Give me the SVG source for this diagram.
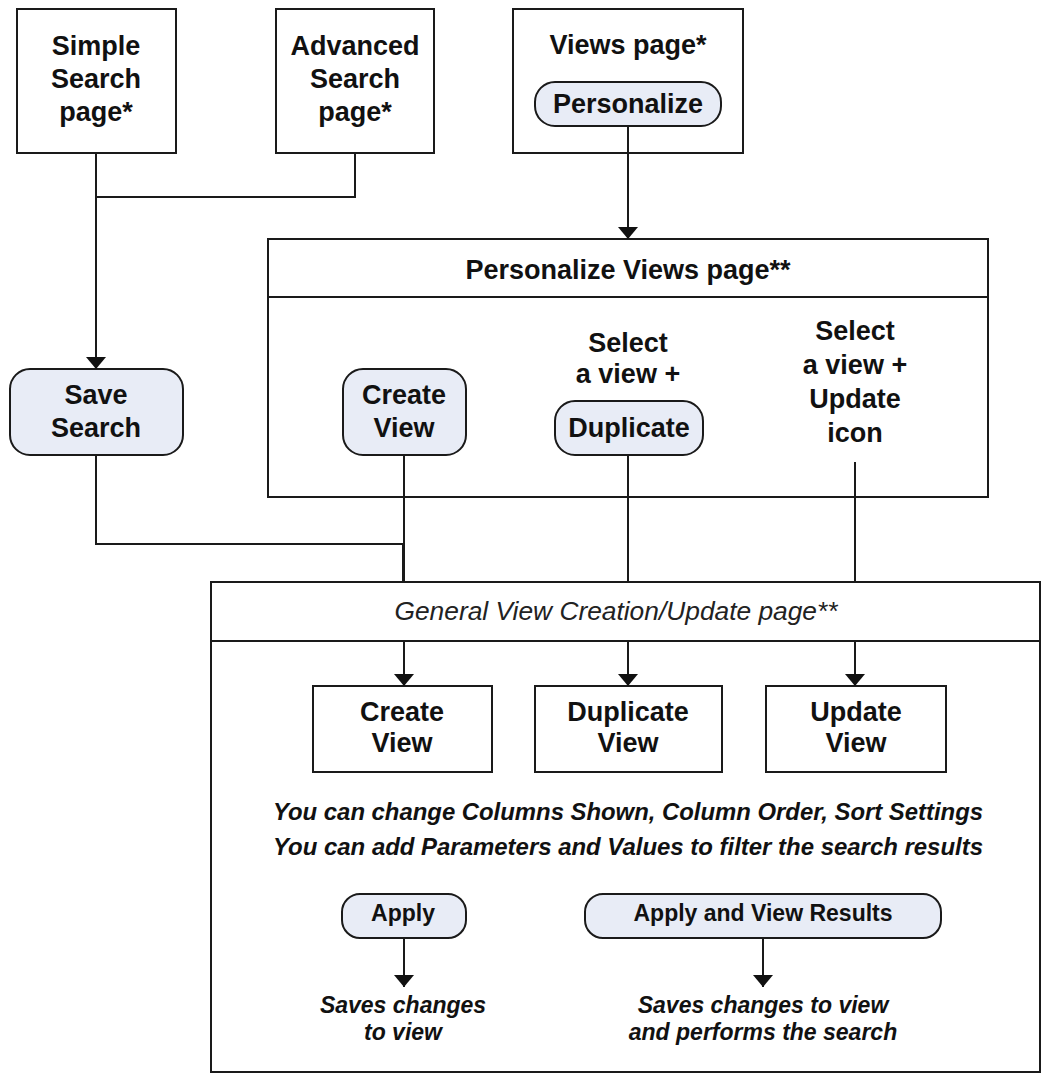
<svg xmlns="http://www.w3.org/2000/svg" width="1045" height="1078" viewBox="0 0 1045 1078">
<style>
.box{fill:#fff;stroke:#1a1a1a;stroke-width:2}
.pill{fill:#e8ecf6;stroke:#1a1a1a;stroke-width:2}
.t{font-family:"Liberation Sans",Arial,sans-serif;font-weight:bold;font-size:27px;fill:#111;text-anchor:middle}
.s{font-family:"Liberation Sans",Arial,sans-serif;font-weight:bold;font-size:23px;fill:#111;text-anchor:middle}
.ni{font-family:"Liberation Sans",Arial,sans-serif;font-weight:bold;font-style:italic;font-size:23px;fill:#111;text-anchor:middle}
.gi{font-family:"Liberation Sans",Arial,sans-serif;font-style:italic;font-size:26px;fill:#222;text-anchor:middle}
.c{fill:none;stroke:#1a1a1a;stroke-width:2}
</style>
<defs>
<marker id="ah" viewBox="0 0 12 20" refX="12" refY="10" markerWidth="12" markerHeight="20" markerUnits="userSpaceOnUse" orient="auto">
<path d="M0,0 L12,10 L0,20 Z" fill="#111"/>
</marker>
</defs>

<g id="simple-search">
<rect class="box" x="17" y="9" width="159" height="144"/>
<text class="t" x="96" y="55">Simple</text>
<text class="t" x="96" y="88">Search</text>
<text class="t" x="96" y="121">page*</text>
</g>
<g id="advanced-search">
<rect class="box" x="276" y="9" width="158" height="144"/>
<text class="t" x="355" y="55">Advanced</text>
<text class="t" x="355" y="88">Search</text>
<text class="t" x="355" y="121">page*</text>
</g>
<g id="views-page">
<rect class="box" x="513" y="9" width="230" height="144"/>
<text class="t" x="628" y="54">Views page*</text>
<rect class="pill" x="535" y="82" width="186" height="44" rx="20"/>
<text class="t" x="628" y="113">Personalize</text>
</g>
<g id="personalize-views">
<rect class="box" x="268" y="239" width="720" height="258"/>
<line class="c" x1="268" y1="297" x2="988" y2="297"/>
<text class="t" x="628" y="279">Personalize Views page**</text>
<rect class="pill" x="343" y="369" width="123" height="86" rx="20"/>
<text class="t" x="404" y="404">Create</text>
<text class="t" x="404" y="437">View</text>
<text class="t" x="628" y="352">Select</text>
<text class="t" x="628" y="383">a view +</text>
<rect class="pill" x="555" y="401" width="148" height="54" rx="20"/>
<text class="t" x="629" y="437">Duplicate</text>
<text class="t" x="855" y="340">Select</text>
<text class="t" x="855" y="374">a view +</text>
<text class="t" x="855" y="408">Update</text>
<text class="t" x="855" y="442">icon</text>
</g>
<g id="save-search">
<rect class="pill" x="10" y="369" width="173" height="86" rx="20"/>
<text class="t" x="96" y="404">Save</text>
<text class="t" x="96" y="437">Search</text>
</g>
<g id="general-view">
<rect class="box" x="211" y="582" width="829" height="490"/>
<line class="c" x1="211" y1="641" x2="1040" y2="641"/>
<text class="gi" x="616" y="620" textLength="443" lengthAdjust="spacingAndGlyphs">General View Creation/Update page**</text>
<rect class="box" x="313" y="686" width="179" height="86"/>
<text class="t" x="402" y="721">Create</text>
<text class="t" x="402" y="752">View</text>
<rect class="box" x="535" y="686" width="187" height="86"/>
<text class="t" x="628" y="721">Duplicate</text>
<text class="t" x="628" y="752">View</text>
<rect class="box" x="766" y="686" width="180" height="86"/>
<text class="t" x="856" y="721">Update</text>
<text class="t" x="856" y="752">View</text>
<text class="ni" x="628" y="820" textLength="710" lengthAdjust="spacingAndGlyphs">You can change Columns Shown, Column Order, Sort Settings</text>
<text class="ni" x="628" y="855" textLength="710" lengthAdjust="spacingAndGlyphs">You can add Parameters and Values to filter the search results</text>
<rect class="pill" x="342" y="894" width="124" height="44" rx="18"/>
<text class="s" x="403" y="921">Apply</text>
<rect class="pill" x="585" y="894" width="356" height="44" rx="18"/>
<text class="s" x="763" y="921">Apply and View Results</text>
<text class="ni" x="403" y="1013">Saves changes</text>
<text class="ni" x="403" y="1040">to view</text>
<text class="ni" x="763" y="1013">Saves changes to view</text>
<text class="ni" x="763" y="1040">and performs the search</text>
</g>

<g id="connectors">
<path class="c" d="M96 153 V369" marker-end="url(#ah)"/>
<path class="c" d="M355 153 V197 H96"/>
<path class="c" d="M628 126 V239" marker-end="url(#ah)"/>
<path class="c" d="M96 455 V544 H403 V582"/>
<path class="c" d="M404 455 V582"/>
<path class="c" d="M628 455 V582"/>
<path class="c" d="M855 462 V582"/>
<path class="c" d="M404 641 V686" marker-end="url(#ah)"/>
<path class="c" d="M628 641 V686" marker-end="url(#ah)"/>
<path class="c" d="M855 641 V686" marker-end="url(#ah)"/>
<path class="c" d="M404 938 V987" marker-end="url(#ah)"/>
<path class="c" d="M763 938 V987" marker-end="url(#ah)"/>
</g>
</svg>
